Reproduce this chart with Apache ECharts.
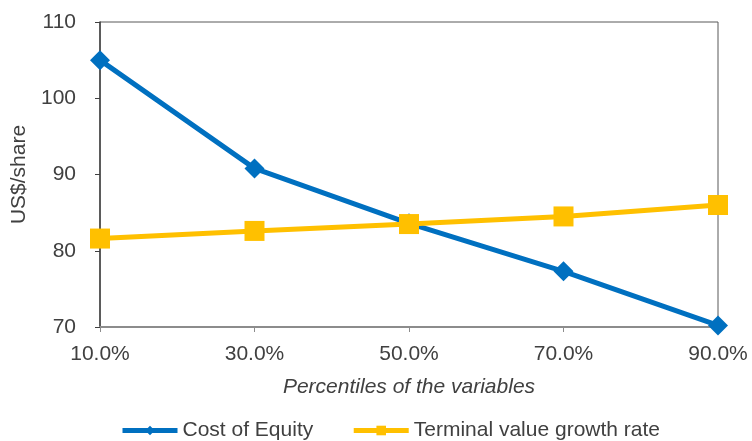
<!DOCTYPE html>
<html>
<head>
<meta charset="utf-8">
<script src="https://cdn.jsdelivr.net/npm/echarts@6/dist/echarts.min.js"></script>
<style>
  html, body { margin: 0; padding: 0; background: #fff; }
  #chart { width: 752px; height: 441px; }
</style>
</head>
<body>
<div id="chart"></div>
<script>
// Share value sensitivity to the percentile of each input variable
const percentiles = ['10.0%', '30.0%', '50.0%', '70.0%', '90.0%'];
const costOfEquity = [105.0, 90.8, 83.6, 77.3, 70.2];
const terminalGrowth = [81.6, 82.6, 83.5, 84.5, 86.0];
const yTicks = [70, 80, 90, 100, 110];

const textColor = '#404040';
const font = 'Liberation Sans, Arial, sans-serif';
const blue = '#0070C0';
const gold = '#FFC000';

const chart = echarts.init(document.getElementById('chart'), null, { renderer: 'canvas' });
chart.setOption({
  animation: false,
  grid: {
    left: 100, right: 34, top: 22, bottom: 114,
    containLabel: false,
    outerBoundsMode: 'none',
    show: true, borderColor: '#595959', borderWidth: 1
  },
  legend: {
    top: 415,
    left: 115,
    itemWidth: 55,
    itemHeight: 12,
    itemGap: 38,
    textStyle: { color: textColor, fontSize: 21, fontFamily: font },
    data: [
      { name: 'Cost of Equity', lineStyle: { width: 5, color: blue }, itemStyle: { color: blue } },
      { name: 'Terminal value growth rate', lineStyle: { width: 5, color: gold }, itemStyle: { color: gold } }
    ]
  },
  xAxis: {
    type: 'category',
    data: percentiles,
    boundaryGap: false,
    name: 'Percentiles of the variables',
    nameLocation: 'middle',
    nameGap: 50,
    nameTextStyle: { color: textColor, fontSize: 21, fontStyle: 'italic', fontFamily: font },
    axisLine: { lineStyle: { color: '#8c8c8c', width: 2 } },
    axisTick: { show: true, alignWithLabel: true, length: 5, lineStyle: { color: '#8c8c8c' } },
    axisLabel: { color: textColor, fontSize: 21, fontFamily: font, margin: 17 }
  },
  yAxis: {
    type: 'value',
    min: yTicks[0],
    max: yTicks[yTicks.length - 1],
    interval: 10,
    name: 'US$/share',
    nameLocation: 'middle',
    nameGap: 68,
    nameTextStyle: { color: textColor, fontSize: 21, fontFamily: font },
    axisLine: { show: true, lineStyle: { color: '#404040', width: 1.5 } },
    axisTick: { show: true, length: 5, lineStyle: { color: '#404040' } },
    axisLabel: { color: textColor, fontSize: 21, fontFamily: font, margin: 24 },
    splitLine: { show: false }
  },
  series: [
    {
      name: 'Cost of Equity',
      type: 'line',
      data: costOfEquity,
      symbol: 'diamond',
      symbolSize: [20, 20],
      lineStyle: { color: blue, width: 5 },
      itemStyle: { color: blue }
    },
    {
      name: 'Terminal value growth rate',
      type: 'line',
      data: terminalGrowth,
      symbol: 'rect',
      symbolSize: 20,
      lineStyle: { color: gold, width: 5 },
      itemStyle: { color: gold }
    }
  ]
});
</script>
</body>
</html>
